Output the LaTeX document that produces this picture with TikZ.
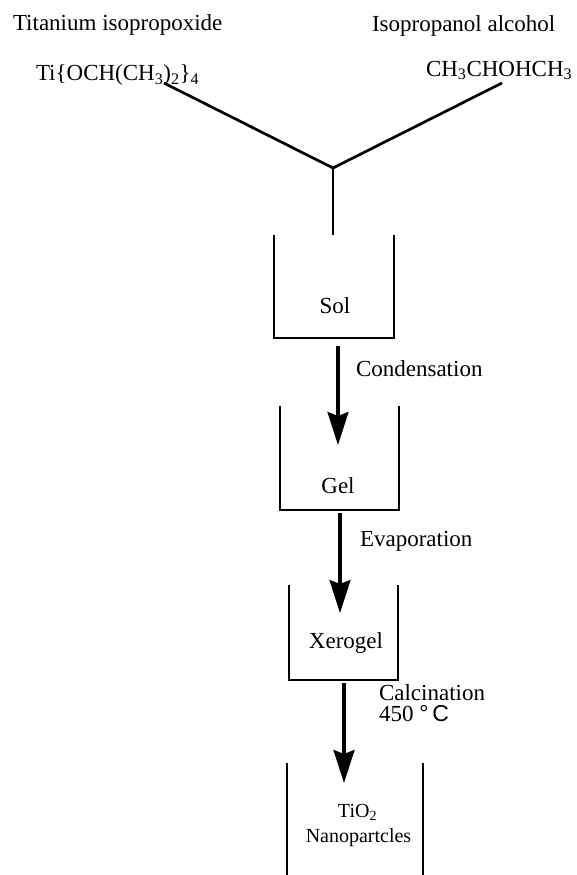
\documentclass[tikz,border=0pt]{standalone}
\usepackage{fontspec}
\setmainfont{Liberation Serif}
\newfontfamily\sansf{Liberation Sans}
\usetikzlibrary{arrows.meta}
\begin{document}
\begin{tikzpicture}[x=1pt,y=-1pt,
  lab/.style={font=\fontsize{23}{21}\selectfont, inner sep=0pt, outer sep=0pt},
  smalllab/.style={font=\fontsize{20}{20}\selectfont, inner sep=0pt, outer sep=0pt},
  vessel/.style={draw=none, inner sep=0pt, outer sep=0pt, rectangle},
  wall/.style={line width=2.9pt, black},
  flow/.style={line width=3.1pt, black, -{Stealth[length=33pt, width=21pt, inset=4pt]}}]
\useasboundingbox (0,0) rectangle (577,875);
% top labels
\node[lab, anchor=base west] (tname) at (13,31) {Titanium isopropoxide};
\node[lab, anchor=base west] (iname) at (372,32) {Isopropanol alcohol};
\node[lab, anchor=base west] (tform) at (36,81) {Ti\{OCH(CH\textsubscript{3})\textsubscript{2}\}\textsubscript{4}};
\node[lab, anchor=base west] (iform) at (426,76) {CH\textsubscript{3}CHOHCH\textsubscript{3}};
% vessels
\node[vessel, minimum width=120pt, minimum height=103pt] (sol) at (334,286.5) {};
\node[vessel, minimum width=119pt, minimum height=104pt] (gel) at (339.5,458) {};
\node[vessel, minimum width=109pt, minimum height=95pt] (xero) at (343.5,632.5) {};
\node[vessel, minimum width=136pt, minimum height=114pt] (tio) at (355,820) {};
\draw[wall] (sol.north west) -- (sol.south west) -- (sol.south east) -- (sol.north east);
\draw[wall] (gel.north west) -- (gel.south west) -- (gel.south east) -- (gel.north east);
\draw[wall] (xero.north west) -- (xero.south west) -- (xero.south east) -- (xero.north east);
\draw[wall] (tio.north west) -- (tio.south west);
\draw[wall] (tio.north east) -- (tio.south east);
% vessel texts
\node[lab, anchor=base] (soltxt) at (335,313) {Sol};
\node[lab, anchor=base] (geltxt) at (338,493) {Gel};
\node[lab, anchor=base] (xerotxt) at (346,648) {Xerogel};
\node[smalllab, anchor=base] (tiotxt) at (357.5,817) {TiO\textsubscript{2}};
\node[smalllab, anchor=base] (nanotxt) at (358.5,842) {Nanopartcles};
% step labels
\node[lab, anchor=base west] (cond) at (356,376) {Condensation};
\node[lab, anchor=base west] (evap) at (360,546) {Evaporation};
\node[lab, anchor=base west, align=left] (calc) at (379,721) {Calcination\\450 {\sansf °\,C}};
% Y junction
\coordinate (lj) at (164,83);
\coordinate (rj) at (502,83);
\coordinate (junc) at (333,168);
\coordinate (stem) at (333,235);
\draw[wall, line width=2.7pt] (lj) -- (junc) -- (rj);
\draw[wall, line width=2.7pt] (junc) -- (stem);
% arrows
\coordinate (a1s) at (338,346);
\coordinate (a1e) at (338,445);
\coordinate (a2s) at (340,513);
\coordinate (a2e) at (340,613);
\coordinate (a3s) at (344,683);
\coordinate (a3e) at (344,783);
\draw[flow] (a1s) -- (a1e);
\draw[flow] (a2s) -- (a2e);
\draw[flow] (a3s) -- (a3e);
\end{tikzpicture}
\end{document}
